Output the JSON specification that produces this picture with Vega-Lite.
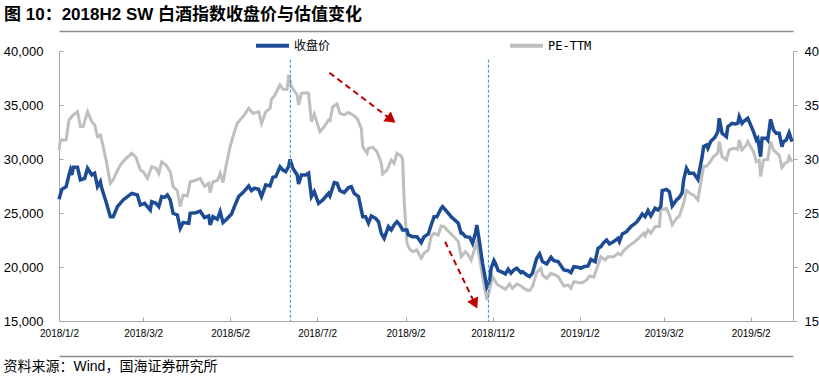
{
  "$schema": "https://vega.github.io/schema/vega-lite/v6.json",
  "width": 734,
  "height": 270,
  "autosize": {"type": "none"},
  "padding": {"left": 59, "top": 51, "right": 26, "bottom": 60},
  "background": "white",
  "config": {"view": {"stroke": null}, "axis": {"grid": false}, "font": "Liberation Sans, Noto Sans CJK SC"},
  "title": {
    "text": "图 10：2018H2 SW 白酒指数收盘价与估值变化",
    "anchor": "start",
    "frame": "group",
    "dx": -55,
    "dy": 1,
    "offset": 4,
    "fontSize": 17,
    "fontWeight": "bold",
    "font": "Liberation Sans, Noto Sans CJK SC",
    "color": "#000000"
  },
  "datasets": {
    "close": [
      {"d":"2018-01-02","v":26268},{"d":"2018-01-04","v":27190},{"d":"2018-01-07","v":27440},{"d":"2018-01-09","v":28520},{"d":"2018-01-10","v":28980},{"d":"2018-01-11","v":28520},{"d":"2018-01-12","v":29230},{"d":"2018-01-15","v":29230},{"d":"2018-01-17","v":28060},{"d":"2018-01-20","v":28210},{"d":"2018-01-22","v":29140},{"d":"2018-01-25","v":28520},{"d":"2018-01-27","v":28680},{"d":"2018-01-29","v":27440},{"d":"2018-01-31","v":27900},
      {"d":"2018-02-01","v":27290},{"d":"2018-02-04","v":26050},{"d":"2018-02-07","v":24660},{"d":"2018-02-09","v":24660},{"d":"2018-02-12","v":25590},{"d":"2018-02-16","v":26210},{"d":"2018-02-22","v":26820},{"d":"2018-02-26","v":26670},{"d":"2018-02-28","v":25740},
      {"d":"2018-03-03","v":25900},{"d":"2018-03-07","v":25280},{"d":"2018-03-08","v":26050},{"d":"2018-03-11","v":25900},{"d":"2018-03-13","v":25590},{"d":"2018-03-15","v":26520},{"d":"2018-03-17","v":26450},{"d":"2018-03-19","v":26670},{"d":"2018-03-21","v":26210},{"d":"2018-03-23","v":24970},{"d":"2018-03-26","v":24820},{"d":"2018-03-28","v":23580},{"d":"2018-03-30","v":24110},
      {"d":"2018-04-03","v":24050},{"d":"2018-04-04","v":24970},{"d":"2018-04-08","v":25030},{"d":"2018-04-11","v":25180},{"d":"2018-04-14","v":24580},{"d":"2018-04-17","v":24730},{"d":"2018-04-18","v":23890},{"d":"2018-04-20","v":24660},{"d":"2018-04-23","v":24420},{"d":"2018-04-25","v":25130},{"d":"2018-04-27","v":24110},{"d":"2018-04-29","v":24350},
      {"d":"2018-05-03","v":24910},{"d":"2018-05-05","v":25590},{"d":"2018-05-08","v":26520},{"d":"2018-05-11","v":26890},{"d":"2018-05-15","v":27500},{"d":"2018-05-17","v":27070},{"d":"2018-05-19","v":27290},{"d":"2018-05-22","v":27190},{"d":"2018-05-24","v":26520},{"d":"2018-05-27","v":27600},{"d":"2018-05-30","v":27500},
      {"d":"2018-06-01","v":28310},{"d":"2018-06-03","v":28370},{"d":"2018-06-06","v":29290},{"d":"2018-06-08","v":28980},{"d":"2018-06-10","v":28830},{"d":"2018-06-12","v":29290},{"d":"2018-06-13","v":29970},{"d":"2018-06-15","v":29140},{"d":"2018-06-18","v":28520},{"d":"2018-06-19","v":27690},{"d":"2018-06-21","v":28520},{"d":"2018-06-24","v":28520},{"d":"2018-06-26","v":28680},{"d":"2018-06-28","v":26520},{"d":"2018-06-30","v":26980},
      {"d":"2018-07-03","v":25900},{"d":"2018-07-06","v":26210},{"d":"2018-07-10","v":26820},{"d":"2018-07-11","v":26580},{"d":"2018-07-14","v":27810},{"d":"2018-07-16","v":27750},{"d":"2018-07-18","v":27070},{"d":"2018-07-21","v":26890},{"d":"2018-07-24","v":27360},{"d":"2018-07-26","v":27440},{"d":"2018-07-28","v":26820},{"d":"2018-07-31","v":26520},
      {"d":"2018-08-03","v":24660},{"d":"2018-08-05","v":24660},{"d":"2018-08-07","v":24050},{"d":"2018-08-09","v":24730},{"d":"2018-08-12","v":24510},{"d":"2018-08-14","v":24200},{"d":"2018-08-16","v":23120},{"d":"2018-08-18","v":22660},{"d":"2018-08-21","v":23740},{"d":"2018-08-23","v":23430},{"d":"2018-08-25","v":23890},{"d":"2018-08-27","v":24200},{"d":"2018-08-29","v":23890},{"d":"2018-08-31","v":23430},
      {"d":"2018-09-03","v":23430},{"d":"2018-09-04","v":22970},{"d":"2018-09-07","v":22810},{"d":"2018-09-10","v":22810},{"d":"2018-09-13","v":22260},{"d":"2018-09-15","v":22810},{"d":"2018-09-18","v":23060},{"d":"2018-09-20","v":23890},{"d":"2018-09-22","v":24660},{"d":"2018-09-24","v":24660},{"d":"2018-09-27","v":25440},{"d":"2018-09-28","v":25590},
      {"d":"2018-10-01","v":25130},{"d":"2018-10-04","v":24660},{"d":"2018-10-09","v":24050},{"d":"2018-10-11","v":23120},{"d":"2018-10-12","v":23120},{"d":"2018-10-14","v":22810},{"d":"2018-10-17","v":22750},{"d":"2018-10-19","v":22190},{"d":"2018-10-21","v":23120},{"d":"2018-10-22","v":23890},{"d":"2018-10-24","v":22190},{"d":"2018-10-26","v":20340},{"d":"2018-10-29","v":18180},{"d":"2018-10-31","v":18800},
      {"d":"2018-11-01","v":19880},{"d":"2018-11-03","v":20600},{"d":"2018-11-04","v":20340},{"d":"2018-11-06","v":19660},{"d":"2018-11-08","v":19570},{"d":"2018-11-11","v":19360},{"d":"2018-11-13","v":19790},{"d":"2018-11-15","v":19420},{"d":"2018-11-17","v":19730},{"d":"2018-11-19","v":19880},{"d":"2018-11-22","v":19480},{"d":"2018-11-23","v":19570},{"d":"2018-11-26","v":19260},{"d":"2018-11-28","v":19110},{"d":"2018-11-30","v":19420},
      {"d":"2018-12-03","v":20810},{"d":"2018-12-05","v":21210},{"d":"2018-12-07","v":20500},{"d":"2018-12-10","v":20280},{"d":"2018-12-13","v":20900},{"d":"2018-12-15","v":20590},{"d":"2018-12-18","v":20500},{"d":"2018-12-22","v":19730},{"d":"2018-12-25","v":19660},{"d":"2018-12-27","v":19480},{"d":"2018-12-29","v":20030},
      {"d":"2019-01-01","v":19970},{"d":"2019-01-03","v":19880},{"d":"2019-01-05","v":20030},{"d":"2019-01-08","v":20100},{"d":"2019-01-10","v":20710},{"d":"2019-01-13","v":20500},{"d":"2019-01-15","v":21730},{"d":"2019-01-17","v":21890},{"d":"2019-01-19","v":22260},{"d":"2019-01-21","v":22500},{"d":"2019-01-23","v":22130},{"d":"2019-01-26","v":22350},{"d":"2019-01-29","v":22660},{"d":"2019-01-30","v":22350},
      {"d":"2019-02-01","v":23060},{"d":"2019-02-04","v":23270},{"d":"2019-02-07","v":23740},{"d":"2019-02-11","v":24140},{"d":"2019-02-13","v":24500},{"d":"2019-02-15","v":24910},{"d":"2019-02-17","v":24660},{"d":"2019-02-19","v":25220},{"d":"2019-02-21","v":24730},{"d":"2019-02-24","v":25440},{"d":"2019-02-26","v":25280},{"d":"2019-02-28","v":25590},
      {"d":"2019-03-01","v":27070},{"d":"2019-03-04","v":27190},{"d":"2019-03-06","v":26980},{"d":"2019-03-08","v":25650},{"d":"2019-03-11","v":26210},{"d":"2019-03-13","v":26450},{"d":"2019-03-15","v":26890},{"d":"2019-03-16","v":28060},{"d":"2019-03-18","v":29140},{"d":"2019-03-20","v":28680},{"d":"2019-03-23","v":28680},{"d":"2019-03-26","v":28120},{"d":"2019-03-27","v":28830},{"d":"2019-03-29","v":30220},{"d":"2019-03-30","v":31140},
      {"d":"2019-04-01","v":31300},{"d":"2019-04-02","v":30990},{"d":"2019-04-04","v":31610},{"d":"2019-04-07","v":32010},{"d":"2019-04-09","v":32530},{"d":"2019-04-10","v":33770},{"d":"2019-04-12","v":32380},{"d":"2019-04-15","v":32070},{"d":"2019-04-16","v":33000},{"d":"2019-04-19","v":33300},{"d":"2019-04-21","v":33240},{"d":"2019-04-23","v":33300},{"d":"2019-04-24","v":33920},{"d":"2019-04-26","v":33300},{"d":"2019-04-27","v":33460},{"d":"2019-04-30","v":33770},
      {"d":"2019-05-04","v":32530},{"d":"2019-05-06","v":31760},{"d":"2019-05-07","v":31920},{"d":"2019-05-09","v":30220},{"d":"2019-05-10","v":31920},{"d":"2019-05-13","v":31920},{"d":"2019-05-14","v":31760},{"d":"2019-05-16","v":33670},{"d":"2019-05-18","v":32690},{"d":"2019-05-20","v":32380},{"d":"2019-05-22","v":32380},{"d":"2019-05-24","v":31140},{"d":"2019-05-25","v":31610},{"d":"2019-05-27","v":31760},{"d":"2019-05-29","v":32440},{"d":"2019-05-31","v":31610}
    ],
    "pe": [
      {"d":"2018-01-02","v":30.83},{"d":"2018-01-03","v":31.76},{"d":"2018-01-07","v":31.76},{"d":"2018-01-09","v":33.61},{"d":"2018-01-12","v":34.08},{"d":"2018-01-15","v":34.38},{"d":"2018-01-17","v":33.0},{"d":"2018-01-19","v":33.0},{"d":"2018-01-22","v":34.38},{"d":"2018-01-25","v":33.46},{"d":"2018-01-27","v":33.15},{"d":"2018-01-29","v":32.07},{"d":"2018-01-31","v":32.22},
      {"d":"2018-02-02","v":31.14},{"d":"2018-02-04","v":29.91},{"d":"2018-02-07","v":27.75},{"d":"2018-02-09","v":28.06},{"d":"2018-02-11","v":28.67},{"d":"2018-02-14","v":29.45},{"d":"2018-02-18","v":30.06},{"d":"2018-02-22","v":30.53},{"d":"2018-02-25","v":30.16},{"d":"2018-02-28","v":28.98},
      {"d":"2018-03-02","v":28.83},{"d":"2018-03-05","v":28.21},{"d":"2018-03-08","v":29.29},{"d":"2018-03-11","v":29.14},{"d":"2018-03-13","v":28.67},{"d":"2018-03-15","v":29.75},{"d":"2018-03-18","v":29.45},{"d":"2018-03-21","v":28.83},{"d":"2018-03-23","v":27.44},{"d":"2018-03-26","v":27.07},{"d":"2018-03-28","v":25.59},{"d":"2018-03-30","v":26.67},
      {"d":"2018-04-02","v":26.58},{"d":"2018-04-04","v":27.90},{"d":"2018-04-07","v":27.99},{"d":"2018-04-11","v":28.21},{"d":"2018-04-14","v":27.47},{"d":"2018-04-17","v":27.75},{"d":"2018-04-18","v":26.88},{"d":"2018-04-20","v":27.90},{"d":"2018-04-23","v":27.99},{"d":"2018-04-25","v":28.67},{"d":"2018-04-27","v":27.81},{"d":"2018-04-29","v":29.29},
      {"d":"2018-05-02","v":31.14},{"d":"2018-05-04","v":32.07},{"d":"2018-05-07","v":33.30},{"d":"2018-05-10","v":33.77},{"d":"2018-05-12","v":34.08},{"d":"2018-05-15","v":34.69},{"d":"2018-05-18","v":34.23},{"d":"2018-05-22","v":34.38},{"d":"2018-05-24","v":33.30},{"d":"2018-05-27","v":34.38},{"d":"2018-05-30","v":34.69},{"d":"2018-05-31","v":35.53},
      {"d":"2018-06-02","v":35.83},{"d":"2018-06-06","v":36.85},{"d":"2018-06-08","v":36.45},{"d":"2018-06-11","v":36.45},{"d":"2018-06-12","v":37.78},{"d":"2018-06-14","v":36.70},{"d":"2018-06-18","v":35.93},{"d":"2018-06-19","v":35.00},{"d":"2018-06-21","v":36.08},{"d":"2018-06-24","v":36.14},{"d":"2018-06-26","v":36.08},{"d":"2018-06-28","v":33.46},{"d":"2018-06-30","v":34.17},
      {"d":"2018-07-04","v":32.53},{"d":"2018-07-07","v":33.00},{"d":"2018-07-10","v":33.61},{"d":"2018-07-11","v":33.55},{"d":"2018-07-13","v":34.85},{"d":"2018-07-16","v":35.09},{"d":"2018-07-18","v":34.23},{"d":"2018-07-21","v":34.08},{"d":"2018-07-24","v":34.30},{"d":"2018-07-27","v":34.08},{"d":"2018-07-30","v":33.77},
      {"d":"2018-08-02","v":32.84},{"d":"2018-08-03","v":31.14},{"d":"2018-08-06","v":30.53},{"d":"2018-08-07","v":30.99},{"d":"2018-08-10","v":31.08},{"d":"2018-08-13","v":30.68},{"d":"2018-08-16","v":29.60},{"d":"2018-08-17","v":28.61},{"d":"2018-08-20","v":28.98},{"d":"2018-08-23","v":29.91},{"d":"2018-08-25","v":29.60},{"d":"2018-08-27","v":30.53},{"d":"2018-08-30","v":30.28},{"d":"2018-08-31","v":29.91},
      {"d":"2018-09-01","v":26.20},{"d":"2018-09-03","v":22.19},{"d":"2018-09-05","v":21.64},{"d":"2018-09-07","v":21.42},{"d":"2018-09-10","v":21.58},{"d":"2018-09-13","v":20.80},{"d":"2018-09-15","v":21.27},{"d":"2018-09-18","v":21.58},{"d":"2018-09-20","v":22.87},{"d":"2018-09-22","v":23.12},{"d":"2018-09-25","v":22.97},{"d":"2018-09-27","v":23.80},{"d":"2018-09-29","v":23.74},
      {"d":"2018-10-03","v":23.18},{"d":"2018-10-07","v":22.66},{"d":"2018-10-09","v":22.35},{"d":"2018-10-11","v":20.96},{"d":"2018-10-14","v":21.42},{"d":"2018-10-16","v":21.11},{"d":"2018-10-18","v":20.65},{"d":"2018-10-21","v":21.88},{"d":"2018-10-22","v":22.26},{"d":"2018-10-24","v":20.80},{"d":"2018-10-26","v":19.11},{"d":"2018-10-29","v":16.95},{"d":"2018-10-31","v":17.87},
      {"d":"2018-11-02","v":19.14},{"d":"2018-11-05","v":18.43},{"d":"2018-11-08","v":18.18},{"d":"2018-11-11","v":17.94},{"d":"2018-11-14","v":18.43},{"d":"2018-11-16","v":18.03},{"d":"2018-11-19","v":18.43},{"d":"2018-11-22","v":18.24},{"d":"2018-11-23","v":18.12},{"d":"2018-11-26","v":17.87},{"d":"2018-11-28","v":17.81},{"d":"2018-11-30","v":18.18},
      {"d":"2018-12-03","v":19.51},{"d":"2018-12-06","v":19.88},{"d":"2018-12-07","v":19.26},{"d":"2018-12-10","v":18.95},{"d":"2018-12-13","v":19.42},{"d":"2018-12-16","v":19.26},{"d":"2018-12-18","v":19.11},{"d":"2018-12-22","v":18.24},{"d":"2018-12-25","v":18.34},{"d":"2018-12-27","v":18.03},{"d":"2018-12-29","v":18.65},
      {"d":"2019-01-02","v":18.55},{"d":"2019-01-04","v":18.55},{"d":"2019-01-07","v":18.80},{"d":"2019-01-09","v":19.17},{"d":"2019-01-12","v":19.05},{"d":"2019-01-15","v":20.19},{"d":"2019-01-17","v":20.96},{"d":"2019-01-20","v":20.65},{"d":"2019-01-22","v":20.96},{"d":"2019-01-26","v":20.96},{"d":"2019-01-29","v":21.27},{"d":"2019-01-31","v":21.11},
      {"d":"2019-02-02","v":21.52},{"d":"2019-02-05","v":21.89},{"d":"2019-02-09","v":22.26},{"d":"2019-02-13","v":22.72},{"d":"2019-02-16","v":23.12},{"d":"2019-02-17","v":22.87},{"d":"2019-02-19","v":23.43},{"d":"2019-02-21","v":23.12},{"d":"2019-02-24","v":23.74},{"d":"2019-02-27","v":23.74},{"d":"2019-02-28","v":25.28},
      {"d":"2019-03-04","v":25.43},{"d":"2019-03-06","v":24.82},{"d":"2019-03-08","v":23.89},{"d":"2019-03-11","v":24.51},{"d":"2019-03-13","v":24.72},{"d":"2019-03-16","v":25.90},{"d":"2019-03-18","v":27.07},{"d":"2019-03-21","v":26.76},{"d":"2019-03-23","v":26.67},{"d":"2019-03-26","v":26.21},{"d":"2019-03-27","v":26.98},{"d":"2019-03-30","v":29.29},
      {"d":"2019-04-01","v":29.35},{"d":"2019-04-03","v":29.60},{"d":"2019-04-06","v":30.22},{"d":"2019-04-09","v":30.53},{"d":"2019-04-10","v":31.61},{"d":"2019-04-12","v":30.22},{"d":"2019-04-15","v":29.91},{"d":"2019-04-17","v":30.84},{"d":"2019-04-20","v":30.99},{"d":"2019-04-23","v":30.90},{"d":"2019-04-24","v":31.76},{"d":"2019-04-26","v":30.84},{"d":"2019-04-29","v":31.30},{"d":"2019-04-30","v":31.61},
      {"d":"2019-05-04","v":30.68},{"d":"2019-05-06","v":29.75},{"d":"2019-05-08","v":29.91},{"d":"2019-05-09","v":28.37},{"d":"2019-05-11","v":29.91},{"d":"2019-05-14","v":29.97},{"d":"2019-05-16","v":31.61},{"d":"2019-05-18","v":30.84},{"d":"2019-05-20","v":30.59},{"d":"2019-05-22","v":30.37},{"d":"2019-05-24","v":29.23},{"d":"2019-05-26","v":29.60},{"d":"2019-05-28","v":29.75},{"d":"2019-05-29","v":30.22},{"d":"2019-05-31","v":29.75}
    ],
    "marks": [
      {"d":"2018-06-13T07:00:00Z"},{"d":"2018-10-30T04:00:00Z"}
    ],
    "arrows": [
      {"id":1,"xa":"2018-07-10T14:00:00Z","ya":37990,"xb":"2018-08-23T00:00:00Z","yb":33650},
      {"id":2,"xa":"2018-09-29T17:00:00Z","ya":22340,"xb":"2018-10-20T16:00:00Z","yb":16590}
    ]
  },
  "resolve": {"scale": {"y": "independent"}},
  "layer": [
    {
      "data": {"name": "pe"},
      "mark": {"type": "line", "strokeWidth": 3, "interpolate": "linear"},
      "encoding": {
        "x": {"field": "d", "type": "temporal", "scale": {"type": "utc", "domain": [{"year":2018,"month":1,"date":2,"utc":true},{"year":2019,"month":5,"date":31,"hours":17,"utc":true}]},
          "axis": {"orient": "top", "offset": 20, "title": null, "labels": false, "ticks": false, "grid": false, "domainColor": "#8C8C8C", "domainWidth": 1.5}},
        "y": {"field": "v", "type": "quantitative", "title": null, "scale": {"domain": [15, 40], "nice": false, "zero": false},
          "axis": {"orient": "right", "title": null, "values": [15,20,25,30,35,40], "format": "d", "labelFontSize": 13, "labelColor": "#000000", "labelFont": "Liberation Sans", "tickSize": 4, "tickColor": "#A6A6A6", "domainColor": "#A6A6A6", "labelPadding": 7, "grid": false}},
        "color": {"datum": "PE-TTM", "type": "nominal"}
      }
    },
    {
      "layer": [
        {
          "data": {"name": "close"},
          "mark": {"type": "line", "strokeWidth": 3.5, "interpolate": "linear"},
          "encoding": {
            "x": {"field": "d", "type": "temporal", "scale": {"type": "utc", "domain": [{"year":2018,"month":1,"date":2,"utc":true},{"year":2019,"month":5,"date":31,"hours":17,"utc":true}]},
              "axis": {
                "values": [{"year":2018,"month":1,"date":2,"utc":true},{"year":2018,"month":3,"date":2,"utc":true},{"year":2018,"month":5,"date":2,"utc":true},{"year":2018,"month":7,"date":2,"utc":true},{"year":2018,"month":9,"date":2,"utc":true},{"year":2018,"month":11,"date":2,"utc":true},{"year":2019,"month":1,"date":2,"utc":true},{"year":2019,"month":3,"date":2,"utc":true},{"year":2019,"month":5,"date":2,"utc":true}],
                "labelExpr": "utcFormat(datum.value, '%Y/%-m/%-d')",
                "labelFontSize": 10, "labelFont": "Liberation Sans", "labelColor": "#000000",
                "labelFlush": false, "labelOverlap": false,
                "tickSize": -4, "tickColor": "#A6A6A6", "domainColor": "#A6A6A6", "labelPadding": 11, "grid": false,
                "title": "资料来源：Wind，国海证券研究所",
                "titleAnchor": "start", "titleAlign": "left", "titleBaseline": "middle",
                "titleX": -56, "titleY": 45,
                "titleFont": "Liberation Sans, Noto Sans CJK SC", "titleFontSize": 14, "titleFontWeight": "normal", "titleColor": "#000000"
              }},
            "y": {"field": "v", "type": "quantitative", "title": null, "scale": {"domain": [15000, 40000], "nice": false, "zero": false},
              "axis": {"title": null, "values": [15000,20000,25000,30000,35000,40000], "format": ",d", "labelFontSize": 13, "labelColor": "#000000", "labelFont": "Liberation Sans", "tickSize": -4, "tickColor": "#A6A6A6", "domainColor": "#A6A6A6", "labelPadding": 20, "grid": false}},
            "color": {"datum": "收盘价", "type": "nominal",
              "scale": {"domain": ["收盘价", "PE-TTM"], "range": ["#1D4C94", "#BFBFBF"]},
              "legend": {"orient": "none", "legendX": 195, "legendY": -24, "direction": "horizontal", "title": null,
                "symbolType": "stroke", "symbolSize": 1089, "symbolStrokeWidth": 4,
                "labelFont": "DejaVu Sans Mono, Noto Sans CJK SC", "labelFontSize": 12, "labelColor": "#000000",
                "columnPadding": 171, "labelOffset": 3, "padding": 0}}
          }
        },
        {
          "data": {"name": "marks"},
          "mark": {"type": "rule", "color": "#4A9AD4", "strokeWidth": 1.2, "strokeDash": [3, 2]},
          "encoding": {
            "x": {"field": "d", "type": "temporal"},
            "y": {"datum": 39200, "type": "quantitative", "title": null},
            "y2": {"datum": 15000}
          }
        },
        {
          "data": {"name": "arrows"},
          "mark": {"type": "rule", "color": "#C00000", "strokeWidth": 2, "strokeDash": [6, 4]},
          "encoding": {
            "x": {"field": "xa", "type": "temporal"},
            "x2": {"field": "xb"},
            "y": {"field": "ya", "type": "quantitative", "title": null},
            "y2": {"field": "yb"}
          }
        },
        {
          "data": {"name": "arrows"},
          "transform": [{"filter": "datum.id == 1"}],
          "mark": {"type": "point", "shape": "triangle-up", "filled": true, "color": "#C00000", "opacity": 1, "size": 150, "angle": 128},
          "encoding": {
            "x": {"field": "xb", "type": "temporal"},
            "y": {"field": "yb", "type": "quantitative", "title": null}
          }
        },
        {
          "data": {"name": "arrows"},
          "transform": [{"filter": "datum.id == 2"}],
          "mark": {"type": "point", "shape": "triangle-up", "filled": true, "color": "#C00000", "opacity": 1, "size": 150, "angle": 154},
          "encoding": {
            "x": {"field": "xb", "type": "temporal"},
            "y": {"field": "yb", "type": "quantitative", "title": null}
          }
        }
      ]
    },
    {
      "data": {"name": "marks"},
      "mark": {"type": "rule", "opacity": 0},
      "encoding": {
        "x": {"field": "d", "type": "temporal",
          "axis": {"orient": "bottom", "offset": 35, "title": null, "labels": false, "ticks": false, "grid": false, "domainColor": "#8C8C8C", "domainWidth": 1.5}}
      }
    }
  ]
}
